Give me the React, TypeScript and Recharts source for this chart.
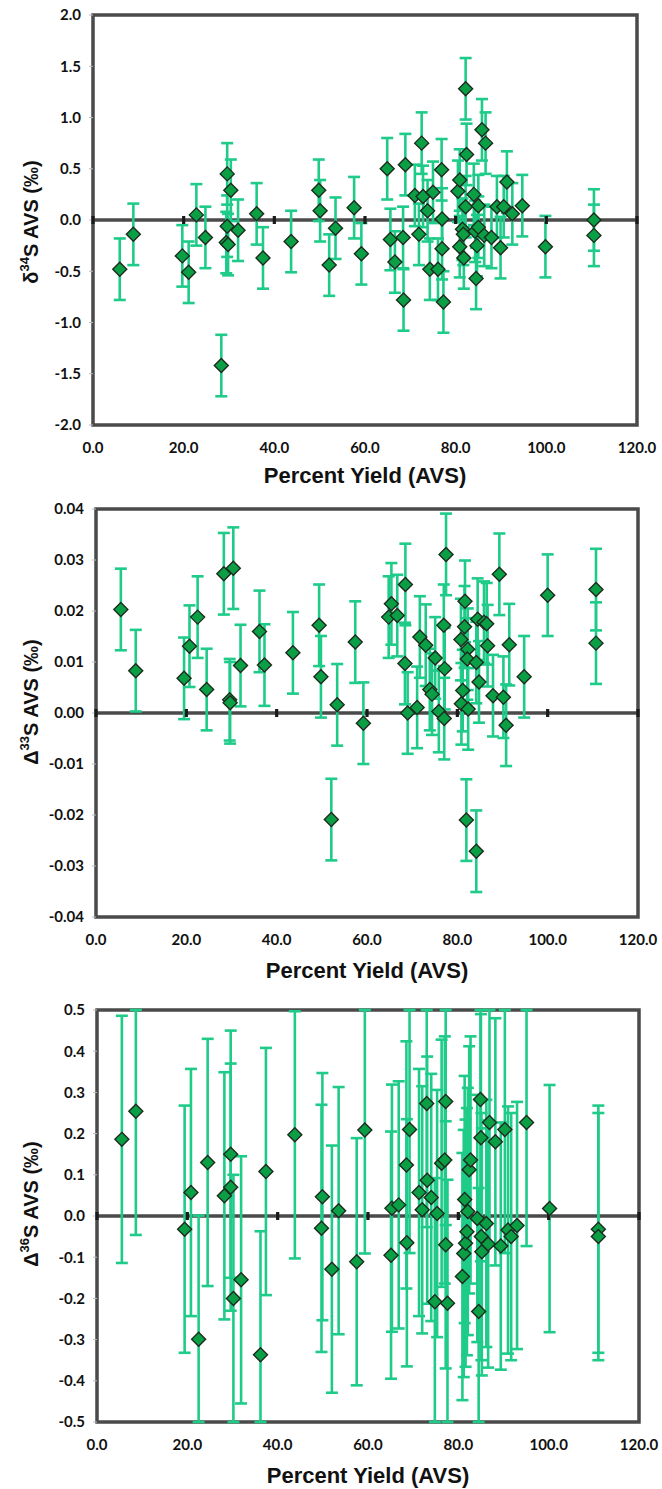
import { ScatterChart, Scatter, XAxis, YAxis, ErrorBar, ReferenceLine, ReferenceArea, ReferenceDot, Label } from 'recharts'

// Percent yield ticks shared by all three panels
const yieldTicks = [0, 20, 40, 60, 80, 100, 120]
const zeroLineTicks = [0, 20, 40, 60, 80, 100, 120]

// delta 34S panel
const d34Ticks = [-2, -1.5, -1, -0.5, 0, 0.5, 1, 1.5, 2]
const d34Yield = [
  5.9, 8.9, 19.7, 21.1, 22.8, 24.8, 28.3, 29.6, 29.6, 29.4, 29.8, 30.4, 32.0, 36.1, 37.5, 43.7,
  49.8, 50.1, 52.1, 53.5, 57.6, 59.2, 64.9, 65.6, 66.6, 68.4, 68.5, 68.9, 71.0, 71.9, 72.5, 72.8,
  73.8, 74.3, 75.0, 76.1, 76.9, 77.0, 77.0, 77.3, 80.5, 80.9, 80.9, 81.5, 81.7, 81.8, 82.2, 82.2,
  82.4, 84.0, 84.3, 84.5, 84.7, 85.0, 85.0, 85.8, 86.6, 86.3, 87.9, 89.1, 89.9, 90.6, 91.3, 92.5,
  94.7, 99.8, 110.5, 110.5,
]
const d34Value = [
  -0.48, -0.14, -0.35, -0.51, 0.05, -0.17, -1.42, 0.45, -0.06, -0.22, -0.24, 0.29, -0.1, 0.06, -0.37, -0.21,
  0.29, 0.09, -0.44, -0.08, 0.12, -0.33, 0.5, -0.19, -0.41, -0.17, -0.78, 0.54, 0.24, -0.14, 0.75, 0.23,
  0.09, -0.48, 0.27, -0.48, 0.49, 0.01, -0.28, -0.8, 0.28, 0.39, -0.26, -0.09, -0.14, -0.37, 1.28, 0.13,
  0.64, 0.25, -0.11, -0.57, -0.25, 0.14, -0.07, 0.88, 0.75, -0.15, -0.17, 0.13, -0.27, 0.13, 0.37, 0.06,
  0.14, -0.26, 0.0, -0.15,
]
const d34Err = 0.3

// capital delta 33S panel
const d33Ticks = [-0.04, -0.03, -0.02, -0.01, 0, 0.01, 0.02, 0.03, 0.04]
const d33Yield = [
  5.5, 8.8, 19.5, 20.7, 22.5, 24.5, 28.3, 30.4, 29.6, 29.7, 32.0, 36.2, 37.3, 43.6, 49.4, 49.8,
  53.4, 52.1, 57.4, 59.2, 64.8, 65.4, 66.7, 68.5, 68.4, 69.0, 71.1, 71.7, 73.0, 73.9, 74.4, 75.1,
  75.9, 77.1, 77.0, 77.2, 77.5, 80.9, 81.2, 80.8, 81.6, 81.7, 82.3, 82.2, 82.4, 82.0, 84.2, 84.2,
  84.5, 84.8, 85.9, 86.5, 86.7, 87.9, 89.3, 90.2, 90.8, 91.5, 94.8, 100.0, 110.7, 110.7,
]
const d33Value = [
  0.0203, 0.0083, 0.0068, 0.0131, 0.0188, 0.0046, 0.0273, 0.0284, 0.0026, 0.002, 0.0093, 0.016, 0.0094, 0.0118, 0.0172, 0.0071,
  0.0016, -0.0209, 0.0139, -0.002, 0.0188, 0.0214, 0.0191, 0.0252, 0.0097, 0.0, 0.0011, 0.0149, 0.0133, 0.0046, 0.0037, 0.0108,
  0.0003, -0.0011, 0.0172, 0.0087, 0.0311, 0.0018, 0.0044, 0.0144, 0.0169, 0.0219, 0.0125, 0.0106, 0.0008, -0.021, 0.0099, -0.0271,
  0.0184, 0.0061, 0.0178, 0.0175, 0.0132, 0.0034, 0.0272, 0.0031, -0.0024, 0.0134, 0.0071, 0.0231, 0.0242, 0.0137,
]
const d33Err = 0.008

// capital delta 36S panel
const d36Ticks = [-0.5, -0.4, -0.3, -0.2, -0.1, 0, 0.1, 0.2, 0.3, 0.4, 0.5]
const d36Yield = [
  5.5, 8.6, 19.4, 20.8, 22.5, 24.5, 28.2, 29.6, 29.6, 30.2, 31.9, 36.2, 37.4, 43.8, 49.9, 49.7,
  52.0, 53.5, 57.5, 59.3, 65.1, 65.3, 66.8, 68.6, 68.5, 69.2, 71.3, 72.0, 73.0, 73.1, 74.0, 74.8,
  75.3, 76.3, 77.0, 77.2, 77.2, 77.6, 80.9, 81.2, 81.6, 81.9, 81.4, 82.1, 82.4, 82.7, 84.2, 84.5,
  84.9, 85.0, 85.1, 85.2, 86.2, 86.6, 86.9, 88.2, 89.4, 90.3, 91.0, 91.7, 93.0, 95.1, 100.2, 111.0,
  111.0,
]
const d36Value = [
  0.186, 0.254, -0.032, 0.057, -0.299, 0.13, 0.049, 0.15, 0.07, -0.2, -0.155, -0.337, 0.108, 0.197, 0.047, -0.03,
  -0.129, 0.013, -0.111, 0.209, -0.095, 0.019, 0.027, -0.065, 0.124, 0.21, 0.057, 0.015, 0.273, 0.087, 0.045, -0.208,
  0.006, 0.128, 0.136, 0.278, -0.07, -0.212, -0.147, -0.091, -0.066, -0.038, 0.04, 0.011, 0.112, 0.136, -0.006, -0.232,
  0.283, 0.19, -0.05, -0.087, -0.018, -0.068, 0.227, 0.18, -0.073, 0.21, -0.034, -0.05, -0.023, 0.227, 0.018, -0.032,
  -0.05,
]
const d36Err = 0.3

const MARKER_FILL = '#0a9f45'
const MARKER_STROKE = '#1d2b1f'
const BAR_COLOR = '#1fcb88'
const FRAME = '#4a4a4a'

const Diamond = (props: any) => {
  const { cx, cy } = props
  const r = 7
  return (
    <polygon
      points={`${cx},${cy - r} ${cx + r},${cy} ${cx},${cy + r} ${cx - r},${cy}`}
      fill={MARKER_FILL}
      stroke={MARKER_STROKE}
      strokeWidth={1.4}
    />
  )
}

const ZeroTick = (props: any) => (
  <rect x={props.cx - 1.6} y={props.cy - 4} width={3.2} height={8} fill="#1a1a1a" />
)

type PanelProps = {
  xs: number[]
  ys: number[]
  err: number
  yTicks: number[]
  digits: number
  height: number
  margin: { top: number; right: number; bottom: number; left: number }
  yWidth: number
  xTitleY: number
  yTitleY: number
  iso: string
  sym: string
}

function Panel({ xs, ys, err, yTicks, digits, height, margin, yWidth, xTitleY, yTitleY, iso, sym }: PanelProps) {
  const lo = yTicks[0]
  const hi = yTicks[yTicks.length - 1]
  // error bars stop at the plot frame, like the original
  const data = xs.map((x, i) => {
    const y = ys[i]
    return { x, y, err: [Math.min(err, y - lo), Math.min(err, hi - y)] }
  })
  const xCenter = (yWidth + 662 - margin.right) / 2
  const tickFont = { fill: '#111', fontFamily: 'Lato', fontWeight: 700, fontSize: 15 }

  return (
    <ScatterChart width={662} height={height} margin={margin}>
      <XAxis
        type="number"
        dataKey="x"
        domain={[0, 120]}
        ticks={yieldTicks}
        allowDataOverflow
        axisLine={false}
        tickLine={false}
        tickSize={0}
        tickMargin={17}
        height={60}
        tick={tickFont}
        tickFormatter={(v: number) => v.toFixed(1)}
      >
        <Label
          content={() => (
            <text
              x={xCenter}
              y={xTitleY}
              textAnchor="middle"
              dominantBaseline="central"
              fontFamily="Liberation Sans"
              fontWeight="bold"
              fontSize={22}
              fill="#111"
            >
              Percent Yield (AVS)
            </text>
          )}
        />
      </XAxis>
      <YAxis
        type="number"
        dataKey="y"
        domain={[lo, hi]}
        ticks={yTicks}
        allowDataOverflow
        width={yWidth}
        axisLine={false}
        tickLine={{ stroke: '#bbbbbb' }}
        tickSize={4}
        tickMargin={8}
        tick={tickFont}
        tickFormatter={(v: number) => v.toFixed(digits)}
      >
        <Label
          content={() => (
            <text
              x={31}
              y={yTitleY}
              transform={`rotate(-90, 31, ${yTitleY})`}
              textAnchor="middle"
              dominantBaseline="central"
              fontFamily="Liberation Sans"
              fontWeight="bold"
              fontSize={20}
              fill="#111"
            >
              <tspan>{sym}</tspan>
              <tspan dy={-7} fontSize={13}>{iso}</tspan>
              <tspan dy={7}>S AVS (‰)</tspan>
            </text>
          )}
        />
      </YAxis>
      <ReferenceLine y={0} stroke={FRAME} strokeWidth={3.5} />
      {zeroLineTicks.map((t) => (
        <ReferenceDot key={t} x={t} y={0} shape={ZeroTick} />
      ))}
      <Scatter data={data} shape={Diamond} isAnimationActive={false}>
        <ErrorBar dataKey="err" direction="y" width={6} stroke={BAR_COLOR} strokeWidth={2.6} />
      </Scatter>
      <ReferenceArea x1={0} x2={120} y1={lo} y2={hi} fill="none" stroke={FRAME} strokeWidth={3.5} />
    </ScatterChart>
  )
}

export default function App() {
  return (
    <div style={{ position: 'absolute', left: 0, top: 0, width: 662, height: 1489, background: '#fff' }}>
      <Panel
        xs={d34Yield}
        ys={d34Value}
        err={d34Err}
        yTicks={d34Ticks}
        digits={1}
        height={490}
        margin={{ top: 15, right: 25, bottom: 5, left: 0 }}
        yWidth={93}
        xTitleY={475}
        yTitleY={222}
        iso="34"
        sym="δ"
      />
      <Panel
        xs={d33Yield}
        ys={d33Value}
        err={d33Err}
        yTicks={d33Ticks}
        digits={2}
        height={500}
        margin={{ top: 19, right: 24, bottom: 13, left: 0 }}
        yWidth={96}
        xTitleY={480}
        yTitleY={212}
        iso="33"
        sym="Δ"
      />
      <Panel
        xs={d36Yield}
        ys={d36Value}
        err={d36Err}
        yTicks={d36Ticks}
        digits={1}
        height={499}
        margin={{ top: 20, right: 23, bottom: 7, left: 0 }}
        yWidth={97}
        xTitleY={485}
        yTitleY={214}
        iso="36"
        sym="Δ"
      />
    </div>
  )
}
